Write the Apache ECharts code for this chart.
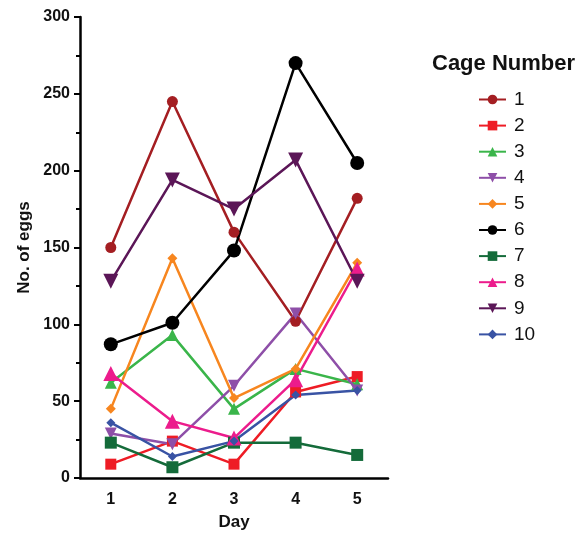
<!DOCTYPE html>
<html>
<head>
<meta charset="utf-8">
<script src="https://cdn.jsdelivr.net/npm/echarts@6/dist/echarts.min.js"></script>
<style>
  html, body { margin: 0; padding: 0; background: #fff; }
  #chart { width: 580px; height: 534px; }
</style>
</head>
<body>
<div id="chart"></div>
<script>
const days = ['1', '2', '3', '4', '5'];
const cageNames = ['1', '2', '3', '4', '5', '6', '7', '8', '9', '10'];

// eggs per cage, day 1..5
const cage1 = [150, 245, 160, 102, 182];
const cage2 = [9, 24, 9, 56, 66];
const cage3 = [62, 93, 45, 71, 61];
const cage4 = [29, 22, 60, 107, 57];
const cage5 = [45, 143, 52, 71, 140];
const cage6 = [87, 101, 148, 270, 205];
const cage7 = [23, 7, 23, 23, 15];
const cage8 = [68, 37, 26, 64, 136];
const cage9 = [128, 194, 175, 207, 128];
const cage10 = [36, 14, 24, 54, 57];

const cageData = [cage1, cage2, cage3, cage4, cage5, cage6, cage7, cage8, cage9, cage10];

const colors = ['#A41E22', '#EE1C25', '#3AB54A', '#8E4FA8', '#F7861F',
  '#000000', '#146B3A', '#EC1C8C', '#5B1657', '#3953A4'];
const symbols = ['circle', 'rect', 'triangle', 'path://M0,0 L10,0 L5,9 Z', 'diamond',
  'circle', 'rect', 'triangle', 'path://M0,0 L10,0 L5,9 Z', 'diamond'];
const sizes = [11, 11, 12, 12, 10, 14, 12, 15, 15, 9];

const font = 'Liberation Sans, Arial, sans-serif';

const series = cageNames.map((name, i) => ({
  name,
  type: 'line',
  data: cageData[i],
  symbol: symbols[i],
  symbolSize: sizes[i],
  itemStyle: { color: colors[i] },
  lineStyle: { color: colors[i], width: 2.5 },
  emphasis: { disabled: true },
}));

const chart = echarts.init(document.getElementById('chart'));
chart.setOption({
  animation: false,
  title: {
    text: 'Cage Number',
    left: 427,
    top: 48,
    textStyle: { fontFamily: font, fontSize: 22, fontWeight: 'bold', color: '#111' },
  },
  legend: {
    orient: 'vertical',
    left: 473,
    top: 85,
    itemWidth: 27,
    itemHeight: 12,
    itemGap: 7.1,
    textStyle: { fontFamily: font, fontSize: 19, color: '#111', padding: [0, 0, 0, 3] },
    data: cageNames,
  },
  grid: { left: 80, right: 192, top: 17, bottom: 56, outerBoundsMode: 'none' },
  xAxis: {
    type: 'category',
    data: days,
    boundaryGap: true,
    name: 'Day',
    nameLocation: 'middle',
    nameGap: 36,
    nameTextStyle: { fontFamily: font, fontSize: 17, fontWeight: 'bold', color: '#111' },
    axisLine: { lineStyle: { color: '#000', width: 2.5 } },
    axisTick: { alignWithLabel: true, length: 6, lineStyle: { color: '#000', width: 2 } },
    axisLabel: { fontFamily: font, fontSize: 16, fontWeight: 'bold', color: '#111', margin: 14 },
    splitLine: { show: false },
  },
  yAxis: {
    type: 'value',
    min: 0,
    max: 300,
    interval: 50,
    name: 'No. of eggs',
    nameLocation: 'middle',
    nameGap: 47,
    nameTextStyle: { fontFamily: font, fontSize: 17, fontWeight: 'bold', color: '#111' },
    axisLine: { show: true, lineStyle: { color: '#000', width: 2.5 } },
    axisTick: { show: true, length: 6, lineStyle: { color: '#000', width: 2 } },
    minorTick: { show: true, splitNumber: 2, length: 4, lineStyle: { color: '#000', width: 2 } },
    axisLabel: { fontFamily: font, fontSize: 16, fontWeight: 'bold', color: '#111', margin: 10 },
    splitLine: { show: false },
  },
  series,
});
</script>
</body>
</html>
